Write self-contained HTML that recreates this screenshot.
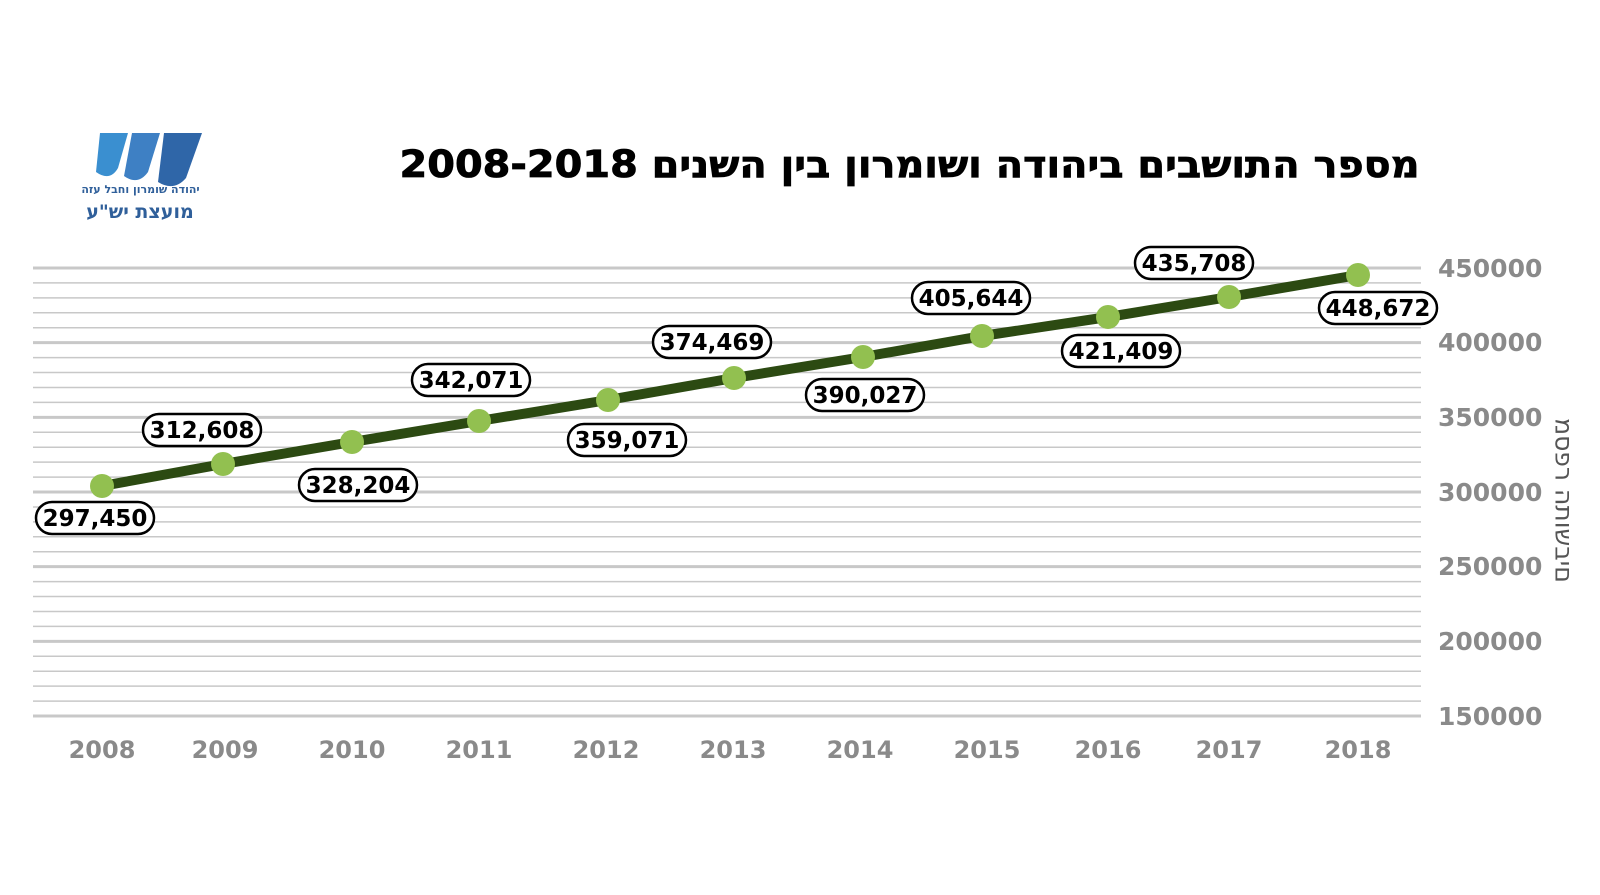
<!DOCTYPE html>
<html><head><meta charset="utf-8"><style>
html,body{margin:0;padding:0;background:#fff;}
svg{display:block;}
.he{position:absolute;direction:rtl;white-space:nowrap;font-family:"DejaVu Sans",sans-serif;}
</style></head><body>
<div style="position:relative;width:1600px;height:895px;overflow:hidden;">
<svg width="1600" height="895" viewBox="0 0 1600 895" xmlns="http://www.w3.org/2000/svg" style="position:absolute;left:0;top:0">
<rect width="1600" height="895" fill="#fff"/>
<path d="M100 133 L128 133 L118 168 Q110 182 96 172 Z" fill="#3a8fd0"/>
<path d="M132 133 L160 133 L148 172 Q138 186 124 176 Z" fill="#3e80c4"/>
<path d="M164 133 L202 133 L186 178 Q174 192 158 182 Z" fill="#2f66a8"/>
<g id="grid"></g>
<g font-family="'DejaVu Sans', 'Liberation Sans', sans-serif" font-weight="bold" font-size="25" fill="#8a8a8a">
<text x="1438" y="277">450000</text>
<text x="1438" y="351">400000</text>
<text x="1438" y="426">350000</text>
<text x="1438" y="501">300000</text>
<text x="1438" y="575">250000</text>
<text x="1438" y="650">200000</text>
<text x="1438" y="725">150000</text>
</g>
<g font-family="'DejaVu Sans', 'Liberation Sans', sans-serif" font-weight="bold" font-size="24" fill="#8a8a8a" text-anchor="middle">
<text x="102" y="758">2008</text><text x="225" y="758">2009</text><text x="352" y="758">2010</text>
<text x="479" y="758">2011</text><text x="606" y="758">2012</text><text x="733" y="758">2013</text>
<text x="860" y="758">2014</text><text x="987" y="758">2015</text><text x="1108" y="758">2016</text>
<text x="1229" y="758">2017</text><text x="1358" y="758">2018</text>
</g>
<polyline points="102,486 223,464 352,442 479,421 608,400 734,378 863,357 982,336 1108,317 1229,297 1358,275" fill="none" stroke="#2c4a12" stroke-width="10" stroke-linejoin="round"/>
<g fill="#92c050">
<circle cx="102" cy="486" r="12"/><circle cx="223" cy="464" r="12"/><circle cx="352" cy="442" r="12"/>
<circle cx="479" cy="421" r="12"/><circle cx="608" cy="400" r="12"/><circle cx="734" cy="378" r="12"/>
<circle cx="863" cy="357" r="12"/><circle cx="982" cy="336" r="12"/><circle cx="1108" cy="317" r="12"/>
<circle cx="1229" cy="297" r="12"/><circle cx="1358" cy="275" r="12"/>
</g>
<g id="labels" font-family="'DejaVu Sans', 'Liberation Sans', sans-serif" font-weight="bold" font-size="23" text-anchor="middle"></g>
</svg>
<div class="he" style="left:78px;top:183px;width:125px;text-align:center;font-size:11px;font-weight:bold;color:#2f5f9a;">יהודה שומרון וחבל עזה</div>
<div class="he" style="left:70px;top:201px;width:140px;text-align:center;font-size:19px;font-weight:bold;color:#2f5f9a;">מועצת יש"ע</div>
<div class="he" id="title" style="right:180px;top:143px;font-size:37px;font-weight:bold;color:#000;transform-origin:right center;-webkit-text-stroke:0.8px #000;">מספר התושבים ביהודה ושומרון בין השנים 2008-2018</div>
<div class="he" style="direction:ltr;unicode-bidi:bidi-override;left:1464px;top:486px;width:200px;text-align:center;font-size:25px;color:#555;transform:rotate(90deg);transform-origin:center center;">מספר התושבים</div>
</div>
<script>
(function(){
var ns="http://www.w3.org/2000/svg",g=document.getElementById("grid");
for(var i=0;i<=30;i++){var y=268+i*74.67/5;var l=document.createElementNS(ns,"line");
l.setAttribute("x1",33);l.setAttribute("x2",1421);l.setAttribute("y1",y);l.setAttribute("y2",y);
l.setAttribute("stroke","#c8c8c8");l.setAttribute("stroke-width",i%5==0?3:1.5);g.appendChild(l);}
var L=[["297,450",95,518],["312,608",202,430],["328,204",358,485],["342,071",471,380],["359,071",627,440],["374,469",712,342],["390,027",865,395],["405,644",971,298],["421,409",1121,351],["435,708",1194,263],["448,672",1378,308]];
var lg=document.getElementById("labels");
L.forEach(function(a){var r=document.createElementNS(ns,"rect");r.setAttribute("x",a[1]-59);r.setAttribute("y",a[2]-16);
r.setAttribute("width",118);r.setAttribute("height",32);r.setAttribute("rx",16);r.setAttribute("fill","#fff");
r.setAttribute("stroke","#000");r.setAttribute("stroke-width",2.5);lg.appendChild(r);
var t=document.createElementNS(ns,"text");t.setAttribute("x",a[1]);t.setAttribute("y",a[2]+8);t.textContent=a[0];lg.appendChild(t);});
var ti=document.getElementById("title");var w=ti.getBoundingClientRect().width;
ti.style.transform="scaleX("+(1020/w)+")";
})();
</script>
</body></html>
